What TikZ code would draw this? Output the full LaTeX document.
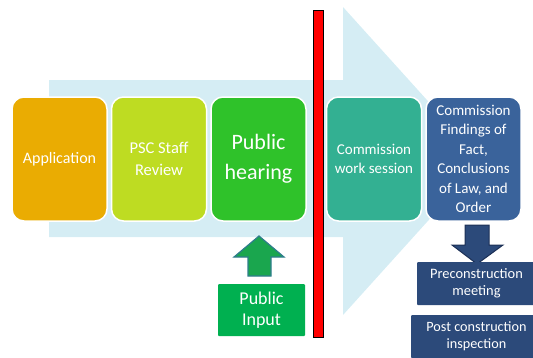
\documentclass[tikz,border=0pt]{standalone}
\usepackage{fontspec}
\setmainfont{Carlito}
\usetikzlibrary{positioning}
\definecolor{ArrowBand}{RGB}{213,237,244}
\definecolor{StageOrange}{RGB}{234,172,2}
\definecolor{StageLime}{RGB}{190,220,34}
\definecolor{StageGreen}{RGB}{47,194,42}
\definecolor{StageTeal}{RGB}{51,176,146}
\definecolor{StageBlue}{RGB}{58,99,155}
\definecolor{InputGreen}{RGB}{0,176,80}
\definecolor{UpGreen}{RGB}{26,166,78}
\definecolor{UpEdge}{RGB}{46,125,140}
\definecolor{NavyBox}{RGB}{44,74,122}
\definecolor{NavyEdge}{RGB}{28,48,86}
\tikzset{
  stage/.style={draw=white,line width=1.5pt,rounded corners=12pt,
    minimum width=95pt,minimum height=124pt,align=center,text=white,inner sep=2pt},
  inputbox/.style={fill=InputGreen,rounded corners=1pt,minimum width=87pt,
    minimum height=52pt,align=center,text=white,inner sep=2pt},
  navybox/.style={fill=NavyBox,rounded corners=1pt,minimum height=43pt,
    align=center,text=white,inner sep=2pt}
}
\begin{document}
\begin{tikzpicture}[x=1pt,y=-1pt,node distance=3pt]
  \clip (0,0) rectangle (533,357);
  \fill[ArrowBand] (49,80) -- (343,80) -- (343,7) -- (482,161) -- (343,315)
    -- (343,237) -- (49,237) -- cycle;
  \node[stage,fill=StageOrange,font=\fontsize{16}{20}\selectfont] (app) at (59.5,159) {Application};
  \node[stage,fill=StageLime,right=of app,font=\fontsize{16.5}{21.5}\selectfont] (review) {PSC Staff\\Review};
  \node[stage,fill=StageGreen,right=of review,font=\fontsize{22}{30}\selectfont] (hearing) {Public\\hearing};
  \node[stage,fill=StageTeal,right=19pt of hearing,font=\fontsize{15}{19.5}\selectfont] (session) {Commission\\work session};
  \node[stage,fill=StageBlue,right=of session,font=\fontsize{15}{19.5}\selectfont] (order)
    {Commission\\Findings of\\Fact,\\Conclusions\\of Law, and\\Order};
  \node[draw=black,fill=red,line width=0.6pt,minimum width=10pt,minimum height=327pt,inner sep=0pt] (bar) at (318.7,173.5) {};
  \node[inputbox,font=\fontsize{18}{21.5}\selectfont] (input) at (261.5,310) {Public\\Input};
  \filldraw[fill=UpGreen,draw=UpEdge,line width=1.2pt] (248,276) -- (248,257) -- (234,257) -- (259,236)
    -- (284,257) -- (271,257) -- (271,276) -- cycle;
  \filldraw[fill=NavyBox,draw=NavyEdge,line width=1pt] (465,225) -- (489,225) -- (489,245) -- (503,245)
    -- (477,264) -- (452,245) -- (465,245) -- cycle;
  \node[navybox,minimum width=119pt,font=\fontsize{14.4}{16.5}\selectfont] (precon) at (476.5,283.5) {Preconstruction\\meeting};
  \node[navybox,minimum width=131pt,font=\fontsize{14.2}{17}\selectfont] (postcon) at (476.5,336.5) {Post construction\\inspection};
\end{tikzpicture}
\end{document}
